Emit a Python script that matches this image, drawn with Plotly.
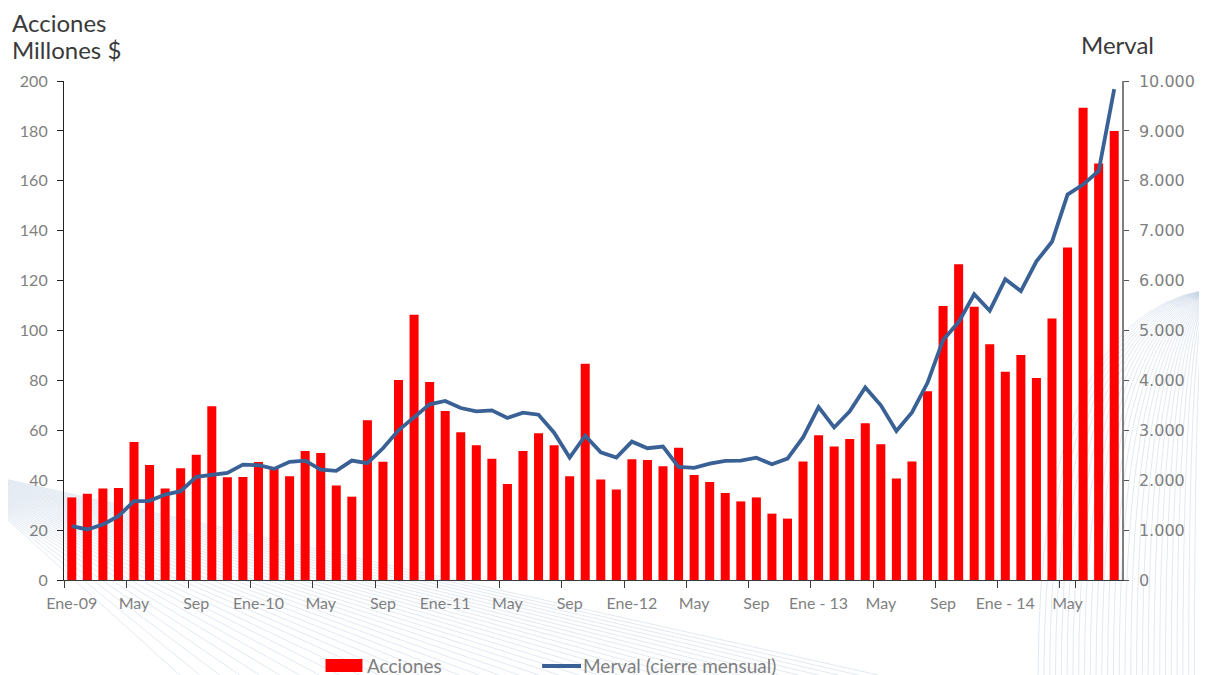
import plotly.graph_objects as go
import pandas as pd

# ---------------- data ----------------
months = [d.strftime("%Y-%m") for d in pd.date_range("2009-01-01", periods=68, freq="MS")]

acciones = [33.1, 34.6, 36.7, 36.9, 55.3, 46.1, 36.7, 44.8, 50.2, 69.6, 41.2, 41.3,
            47.3, 44.5, 41.6, 51.7, 50.9, 37.9, 33.4, 64.0, 47.4, 80.2, 106.3, 79.4,
            67.7, 59.2, 54.0, 48.6, 38.5, 51.7, 58.8, 54.0, 41.6, 86.7, 40.3, 36.3,
            48.4, 48.1, 45.6, 53.0, 42.1, 39.3, 34.9, 31.5, 33.1, 26.6, 24.6, 47.5,
            58.0, 53.5, 56.5, 62.8, 54.4, 40.7, 47.5, 75.7, 109.8, 126.6, 109.5, 94.5,
            83.5, 90.2, 81.0, 104.8, 133.3, 189.3, 166.9, 180.0]

merval = [1080, 1013, 1113, 1280, 1580, 1587, 1713, 1780, 2067, 2113, 2147, 2313,
          2300, 2227, 2367, 2393, 2213, 2187, 2393, 2340, 2640, 3000, 3267, 3520,
          3587, 3447, 3380, 3400, 3247, 3353, 3313, 2953, 2453, 2893, 2560, 2453,
          2773, 2640, 2673, 2267, 2247, 2333, 2387, 2393, 2450, 2319, 2434, 2856,
          3465, 3057, 3379, 3858, 3500, 2985, 3357, 3951, 4810, 5168, 5727, 5397,
          6027, 5791, 6385, 6779, 7724, 7924, 8196, 9835]

tick_idx = list(range(0, 68, 4))
tick_labels = ["Ene-09", "May", "Sep", "Ene-10", "May", "Sep", "Ene-11", "May", "Sep",
               "Ene-12", "May", "Sep", "Ene - 13", "May", "Sep", "Ene - 14", "May"]

left_ticks = list(range(0, 201, 20))
right_ticks = list(range(0, 10001, 1000))
right_labels = ["0", "1.000", "2.000", "3.000", "4.000", "5.000", "6.000", "7.000",
                "8.000", "9.000", "10.000"]

# ---------------- layout geometry (screen pixels) ----------------
W, H = 1207, 675
OFF = 8                      # default page body margin
L, R, T, B = 64, 1124, 81, 580


def px(x):
    return (x - L) / (R - L)


def py(y):
    return (B - y) / (B - T)


GRAY = "#7f7f7f"
DARK = "#3a3a3a"

fig = go.Figure()
fig.add_trace(go.Bar(x=months, y=acciones, name="Acciones",
                     marker=dict(color="#ff0000", line=dict(width=0)),
                     yaxis="y"))
fig.add_trace(go.Scatter(x=months, y=merval, name="Merval (cierre mensual)",
                         mode="lines", line=dict(color="#3a6195", width=3.8),
                         yaxis="y2"))

shapes = []
DECO = "rgba(120,150,195,0.36)"
# decorative background: bottom-left ribbon
for i in range(36):
    x0, y0 = 0, 478 + 1.0 * i
    x1, y1 = 880 - 20 * i, 675
    shapes.append(dict(type="line", xref="paper", yref="paper", layer="below",
                       x0=px(x0), y0=py(y0), x1=px(x1), y1=py(y1),
                       line=dict(color=DECO, width=0.6)))
# decorative background: right fan
for i in range(30):
    sx, sy = 1207, 290 + 0.3 * i
    ex, ey = 1040 + 5.8 * i, 675
    cx, cy = ex, 320 + 1.5 * i
    path = "M {:.5f} {:.5f} Q {:.5f} {:.5f} {:.5f} {:.5f}".format(
        px(sx), py(sy), px(cx), py(cy), px(ex), py(ey))
    shapes.append(dict(type="path", xref="paper", yref="paper", layer="below",
                       path=path, line=dict(color=DECO, width=0.6)))

# custom legend
shapes.append(dict(type="rect", xref="paper", yref="paper",
                   x0=px(326), x1=px(363), y0=py(672), y1=py(659),
                   fillcolor="#ff0000", line=dict(width=0)))
shapes.append(dict(type="line", xref="paper", yref="paper",
                   x0=px(543), x1=px(582), y0=py(666), y1=py(666),
                   line=dict(color="#3a6195", width=4)))

annotations = [
    dict(text="Acciones", x=px(10), y=py(22), xref="paper", yref="paper",
         xanchor="left", yanchor="middle", showarrow=False, height=26,
         font=dict(family="Lato", size=24, color=DARK)),
    dict(text="Millones $", x=px(10), y=py(49), xref="paper", yref="paper",
         xanchor="left", yanchor="middle", showarrow=False, height=26,
         font=dict(family="Lato", size=24, color=DARK)),
    dict(text="Merval", x=px(1158), y=py(44), xref="paper", yref="paper",
         xanchor="right", yanchor="middle", showarrow=False,
         font=dict(family="Lato", size=24, color=DARK)),
    dict(text="Acciones", x=px(366), y=py(665), xref="paper", yref="paper",
         xanchor="left", yanchor="middle", showarrow=False, height=20,
         font=dict(family="Lato", size=19, color=GRAY)),
    dict(text="Merval (cierre mensual)", x=px(582), y=py(665), xref="paper", yref="paper",
         xanchor="left", yanchor="middle", showarrow=False, height=20,
         font=dict(family="Lato", size=19, color=GRAY)),
]

fig.update_layout(
    width=W - OFF, height=H - OFF,
    margin=dict(l=L - OFF, r=W - R, t=T - OFF, b=H - B, pad=0),
    paper_bgcolor="white", plot_bgcolor="rgba(0,0,0,0)",
    showlegend=False, bargap=0.42,
    shapes=shapes, annotations=annotations,
    xaxis=dict(type="category", categoryorder="array", categoryarray=months,
               range=[-0.5, 67.5], tickmode="array",
               tickvals=[months[i] for i in tick_idx], ticktext=tick_labels,
               tickson="boundaries", tickangle=0, ticks="outside", ticklen=7,
               tickcolor=DARK, showline=True, linecolor=DARK, linewidth=1.2,
               showgrid=False, zeroline=False, ticklabelstandoff=9,
               tickfont=dict(family="Lato", size=16, color=GRAY)),
    yaxis=dict(range=[0, 200], tickmode="array", tickvals=left_ticks,
               ticks="outside", ticklen=6, tickcolor="#222222",
               showline=True, linecolor="#222222", linewidth=1.2,
               showgrid=False, zeroline=False, ticklabelstandoff=6,
               tickfont=dict(family="Lato", size=16, color=GRAY)),
    yaxis2=dict(range=[0, 10000], overlaying="y", side="right", tickmode="array",
                tickvals=right_ticks, ticktext=right_labels,
                ticks="outside", ticklen=5, tickcolor="#555555",
                showline=True, linecolor="#808080", linewidth=1.5,
                showgrid=False, zeroline=False, ticklabelstandoff=7,
                tickfont=dict(family="DejaVu Sans", size=16, color=GRAY)),
)

fig.write_html("out.html")
